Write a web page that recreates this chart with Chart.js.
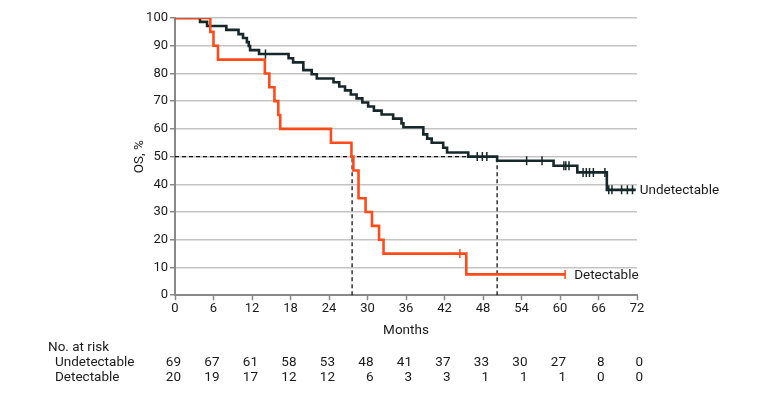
<!DOCTYPE html>
<html>
<head>
<meta charset="utf-8">
<script src="https://cdn.jsdelivr.net/npm/chart.js@4"></script>
<style>
  html, body { margin: 0; padding: 0; background: #fff; }
  #wrap { width: 780px; height: 398px; }
</style>
</head>
<body>
<div id="wrap"><canvas id="km"></canvas></div>
<script>
// Kaplan-Meier OS by ctDNA status
const undetTime = [0, 3.9, 5.0, 8.0, 9.9, 10.6, 11.2, 11.5, 11.7, 13.1, 17.7, 18.4, 20.0, 21.3, 22.1,
  24.7, 25.6, 26.5, 27.4, 28.3, 29.2, 30.1, 31.0, 32.2, 34.0, 35.3, 35.6,
  38.7, 39.3, 40.0, 41.8, 42.4, 45.7, 50.2, 59.0, 62.7, 67.3, 71.8];
const undetSurv = [100, 98.6, 97.1, 95.7, 94.2, 92.8, 91.3, 89.9, 88.4, 87.0, 85.5, 84.0, 81.2, 79.7, 78.2,
  76.8, 75.3, 73.9, 72.4, 71.0, 69.5, 68.1, 66.6, 65.2, 63.7, 62.0, 60.6,
  58.0, 56.5, 55.0, 53.2, 51.5, 50.0, 48.5, 46.7, 44.3, 38.0, 38.0];
const undetCensorTime = [14.1, 47.1, 47.9, 48.6, 54.8, 57.2, 60.6, 60.9, 61.4, 63.6, 64.1, 64.6, 65.2, 67.0, 67.6, 68.1, 69.6, 70.5, 71.3];
const undetCensorSurv = [87.0, 50.0, 50.0, 50.0, 48.5, 48.5, 46.7, 46.7, 46.7, 44.3, 44.3, 44.3, 44.3, 44.3, 38.0, 38.0, 38.0, 38.0, 38.0];

const detTime = [0, 5.5, 6.0, 6.7, 14.0, 14.7, 15.5, 16.1, 16.4, 24.3, 27.5, 27.8, 28.6, 29.7, 30.7, 31.8, 32.5, 45.4, 60.8];
const detSurv = [100, 95, 90, 85, 80, 75, 70, 65, 60, 55, 50, 45, 35, 30, 25, 20, 15, 7.5, 7.5];
const detCensorTime = [44.4, 60.8];
const detCensorSurv = [15, 7.5];

const medianDet = 27.6;
const medianUndet = 50.2;

const riskMonths = [0, 6, 12, 18, 24, 30, 36, 42, 48, 54, 60, 66, 72];
const riskUndet = [69, 67, 61, 58, 53, 48, 41, 37, 33, 30, 27, 8, 0];
const riskDet = [20, 19, 17, 12, 12, 6, 3, 3, 1, 1, 1, 0, 0];

const ORANGE = '#ff4a1a';
const DARK = '#17282a';
const FONT = "Roboto, 'Liberation Sans', sans-serif";

function pts(xs, ys) {
  return xs.map((x, i) => ({ x: x, y: ys[i] }));
}

const textPlugin = {
  id: 'kmText',
  afterDraw(chart) {
    const c = chart.ctx;
    const xs = chart.scales.x;
    const ys = chart.scales.y;
    c.save();
    c.fillStyle = '#1a1a1a';
    c.font = '13.5px ' + FONT;
    c.textBaseline = 'middle';
    c.textAlign = 'left';
    // curve labels
    c.fillText('Undetectable', xs.getPixelForValue(undetTime[undetTime.length - 1]) + 4, ys.getPixelForValue(undetSurv[undetSurv.length - 1]) + 1);
    c.fillText('Detectable', xs.getPixelForValue(detTime[detTime.length - 1]) + 9, ys.getPixelForValue(detSurv[detSurv.length - 1]) + 1);
    // number at risk table
    c.fillText('No. at risk', 48, 348);
    c.fillText('Undetectable', 55, 363);
    c.fillText('Detectable', 55, 378);
    c.textAlign = 'right';
    riskMonths.forEach((m, i) => {
      const px = xs.getPixelForValue(m) + 6;
      c.fillText(String(riskUndet[i]), px, 363);
      c.fillText(String(riskDet[i]), px, 378);
    });
    c.restore();
  }
};

new Chart(document.getElementById('km'), {
  type: 'scatter',
  data: {
    datasets: [
      {
        label: 'Detectable censored',
        data: pts(detCensorTime, detCensorSurv),
        pointStyle: 'line',
        rotation: 90,
        pointRadius: 4.5,
        borderWidth: 1.5,
        borderColor: ORANGE,
        showLine: false,
        order: 0
      },
      {
        label: 'Undetectable censored',
        data: pts(undetCensorTime, undetCensorSurv),
        pointStyle: 'line',
        rotation: 90,
        pointRadius: 4.5,
        borderWidth: 1.5,
        borderColor: DARK,
        showLine: false,
        order: 0
      },
      {
        label: 'Detectable',
        data: pts(detTime, detSurv),
        showLine: true,
        stepped: true,
        borderColor: ORANGE,
        borderWidth: 2.6,
        pointRadius: 0,
        order: 1
      },
      {
        label: 'Undetectable',
        data: pts(undetTime, undetSurv),
        showLine: true,
        stepped: true,
        borderColor: DARK,
        borderWidth: 2.6,
        pointRadius: 0,
        order: 2
      },
      {
        label: 'median line',
        data: [{ x: 0, y: 50 }, { x: medianUndet, y: 50 }],
        showLine: true,
        borderColor: '#111',
        borderWidth: 1.3,
        borderDash: [4, 3],
        pointRadius: 0,
        order: 3
      },
      {
        label: 'median detectable',
        data: [{ x: medianDet, y: 0 }, { x: medianDet, y: 50 }],
        showLine: true,
        borderColor: '#111',
        borderWidth: 1.3,
        borderDash: [4, 3],
        pointRadius: 0,
        order: 3
      },
      {
        label: 'median undetectable',
        data: [{ x: medianUndet, y: 0 }, { x: medianUndet, y: 50 }],
        showLine: true,
        borderColor: '#111',
        borderWidth: 1.3,
        borderDash: [4, 3],
        pointRadius: 0,
        order: 3
      }
    ]
  },
  options: {
    responsive: true,
    maintainAspectRatio: false,
    animation: false,
    layout: { padding: { left: 128, right: 143, top: 18, bottom: 59 } },
    plugins: {
      legend: { display: false },
      tooltip: { enabled: false }
    },
    scales: {
      x: {
        type: 'linear',
        min: 0,
        max: 72,
        ticks: { stepSize: 6, color: '#1a1a1a', padding: 1, font: { family: FONT, size: 13 } },
        grid: { display: true, drawOnChartArea: false, drawTicks: true, tickLength: 5, tickColor: '#888', tickWidth: 1.5 },
        border: { color: '#888', width: 2 },
        title: { display: true, text: 'Months', color: '#1a1a1a', padding: { top: 5, bottom: 0 }, font: { family: FONT, size: 13.5 } }
      },
      y: {
        min: 0,
        max: 100,
        afterFit: function (scale) { scale.width = 47; },
        ticks: { stepSize: 10, color: '#1a1a1a', padding: 2, font: { family: FONT, size: 13 } },
        grid: { color: '#c4c4c4', lineWidth: 1.5, tickLength: 5, tickColor: '#888', tickWidth: 1.5 },
        border: { color: '#888', width: 2 },
        title: { display: true, text: 'OS, %', color: '#1a1a1a', padding: { top: 4, bottom: 4 }, font: { family: FONT, size: 13.5 } }
      }
    }
  },
  plugins: [textPlugin]
});
</script>
</body>
</html>
